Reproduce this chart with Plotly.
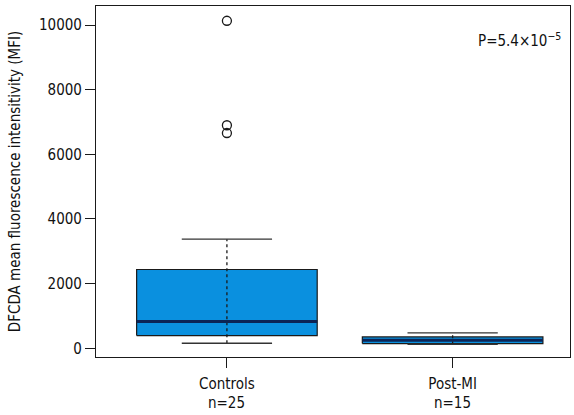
import plotly.graph_objects as go

# ---- data ----
categories = ["Controls", "Post-MI"]
n_labels = ["n=25", "n=15"]
q1 = [393, 146]
median = [827, 248]
q3 = [2437, 350]
lower_whisker = [155, 124]
upper_whisker = [3375, 474]
outliers = [[10133, 6900, 6660], []]
y_ticks = [0, 2000, 4000, 6000, 8000, 10000]
p_label = "P=5.4×10<sup>−5</sup>"

FONT = "DejaVu Sans Condensed, Liberation Sans Narrow, Arial Narrow, sans-serif"
BOX_FILL = "#0a90df"
MEDIAN_COL = "#0b2456"
LINE_COL = "#1a1a1a"
TEXT_COL = "#111111"
box_half = 0.4
cap_half = 0.2

fig = go.Figure()
positions = [i + 1 for i in range(len(categories))]

for i, p in enumerate(positions):
    # box body
    fig.add_trace(go.Scatter(
        x=[p - box_half, p + box_half, p + box_half, p - box_half, p - box_half],
        y=[q1[i], q1[i], q3[i], q3[i], q1[i]],
        mode="lines", fill="toself", fillcolor=BOX_FILL,
        line=dict(color=LINE_COL, width=1.2), hoverinfo="skip", showlegend=False))
    # dotted whisker line
    fig.add_trace(go.Scatter(
        x=[p, p], y=[lower_whisker[i], upper_whisker[i]], mode="lines",
        line=dict(color=LINE_COL, width=1.3, dash="dot"), hoverinfo="skip", showlegend=False))
    # caps
    for v in (lower_whisker[i], upper_whisker[i]):
        fig.add_trace(go.Scatter(
            x=[p - cap_half, p + cap_half], y=[v, v], mode="lines",
            line=dict(color="#333333", width=1.3), hoverinfo="skip", showlegend=False))
    # median
    fig.add_trace(go.Scatter(
        x=[p - box_half, p + box_half], y=[median[i], median[i]], mode="lines",
        line=dict(color=MEDIAN_COL, width=3), hoverinfo="skip", showlegend=False))
    # outliers
    if outliers[i]:
        fig.add_trace(go.Scatter(
            x=[p] * len(outliers[i]), y=outliers[i], mode="markers",
            marker=dict(symbol="circle-open", size=9, color=LINE_COL, line=dict(width=1.3)),
            showlegend=False))
    # sample size line under the category label
    fig.add_annotation(text=n_labels[i], x=p, xref="x", y=0, yref="paper",
                       yshift=-46, xanchor="center", yanchor="middle", showarrow=False,
                       font=dict(family=FONT, size=15, color=TEXT_COL))

fig.add_annotation(text=p_label, x=0.985, y=0.903, xref="paper", yref="paper",
                   xanchor="right", yanchor="middle", showarrow=False,
                   font=dict(family=FONT, size=15, color=TEXT_COL))

fig.update_layout(
    width=574, height=415,
    margin=dict(l=96, r=4, t=6, b=58),
    paper_bgcolor="white", plot_bgcolor="white",
    font=dict(family=FONT, size=15, color=TEXT_COL),
)
fig.update_xaxes(
    range=[0.42, 2.52],
    tickvals=positions,
    ticktext=categories,
    showgrid=False, zeroline=False,
    showline=True, linecolor=LINE_COL, linewidth=1.2, mirror=True,
    ticks="outside", ticklen=10, tickcolor=LINE_COL, tickwidth=1.2,
    ticklabelstandoff=3,
    tickfont=dict(family=FONT, size=15, color=TEXT_COL),
)
fig.update_yaxes(
    range=[-270, 10590],
    tickvals=y_ticks, ticktext=[str(t) for t in y_ticks],
    showgrid=False, zeroline=False,
    showline=True, linecolor=LINE_COL, linewidth=1.2, mirror=True,
    ticks="outside", ticklen=10, tickcolor=LINE_COL, tickwidth=1.2,
    tickfont=dict(family=FONT, size=15, color=TEXT_COL),
    title=dict(text="DFCDA mean fluorescence intensitivity (MFI)", standoff=14,
               font=dict(family=FONT, size=15, color=TEXT_COL)),
)

fig.write_html("out.html")
